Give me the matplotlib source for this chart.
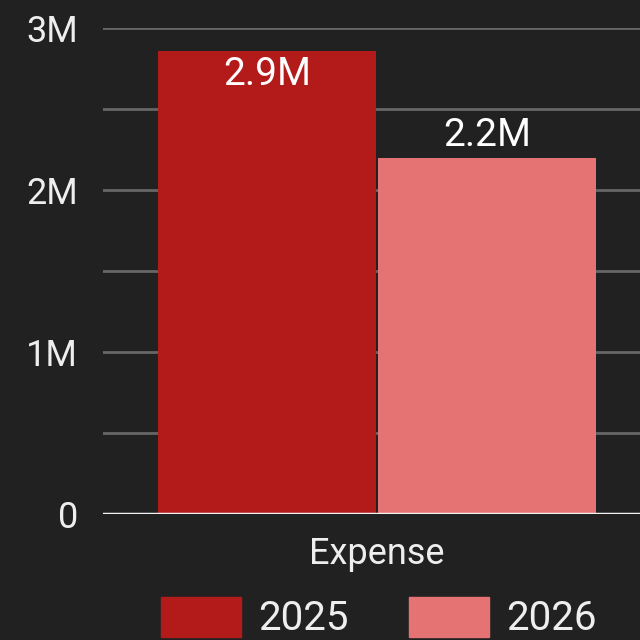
import matplotlib.pyplot as plt
from matplotlib.patches import Rectangle
from matplotlib.ticker import FuncFormatter, MultipleLocator

categories = ['Expense']
years = ['2025', '2026']
values = [2.86e6, 2.2e6]
labels = ['2.9M', '2.2M']
colors = ['#b31b1b', '#e57373']

bg = '#212121'
fg = '#eeeeee'

plt.rcParams['font.family'] = ['Roboto', 'DejaVu Sans']

fig = plt.figure(figsize=(6.4, 6.4), dpi=100, facecolor=bg)
ax = fig.add_axes([103/640, 1-514/640, 548/640, 486/640])
ax.set_facecolor(bg)

w = 0.398
offs = [-w/2 - 0.002, w/2 + 0.002]
for i in range(len(years)):
    ax.bar(0 + offs[i], values[i], width=w, color=colors[i], zorder=3)

# value labels: first inside the bar, second above
ax.text(offs[0], values[0] - 0.03e6, labels[0], ha='center', va='top',
        color='white', fontsize=28, zorder=4)
ax.text(offs[1], values[1] + 0.02e6, labels[1], ha='center', va='bottom',
        color='white', fontsize=28, zorder=4)

ax.set_xlim(-0.5, 0.5)
ax.set_ylim(0, 3e6)
ax.yaxis.set_major_locator(MultipleLocator(1e6))
ax.yaxis.set_minor_locator(MultipleLocator(0.5e6))

def fmt(v, p):
    if v == 0:
        return '0'
    return '%dM' % round(v / 1e6)

ax.yaxis.set_major_formatter(FuncFormatter(fmt))
ax.grid(axis='y', which='both', color='#666666', linewidth=2, zorder=0)
ax.axhline(0, color='#f2f2f2', linewidth=2.5, zorder=5)

ax.set_xticks([0])
ax.set_xticklabels(categories)
ax.tick_params(axis='x', length=0, pad=16, labelsize=26, colors=fg)
ax.tick_params(axis='y', which='both', length=0, pad=18, labelsize=26, colors=fg)
for s in ax.spines.values():
    s.set_visible(False)

# legend
for i in range(len(years)):
    x0 = [161, 409][i]
    fig.patches.append(Rectangle((x0/640, 3/640), 80/640, 40/640,
                                 transform=fig.transFigure, color=colors[i]))
    fig.text((x0 + 97)/640, 22/640, years[i], color=fg, fontsize=29,
             va='center', ha='left')

fig.savefig('out.png', facecolor=bg)
